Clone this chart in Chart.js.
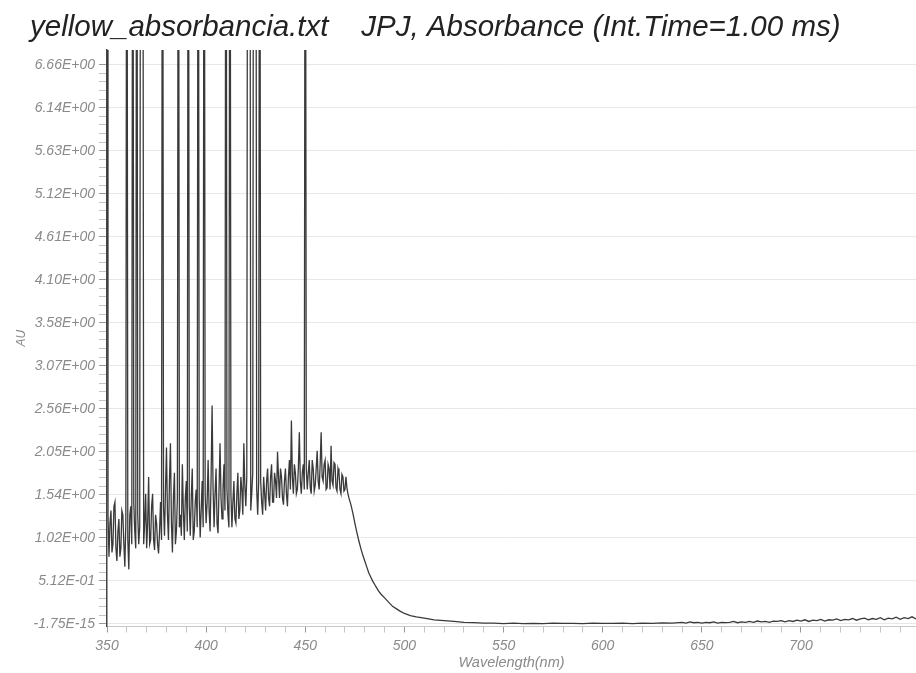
<!DOCTYPE html>
<html>
<head>
<meta charset="utf-8">
<script src="https://cdn.jsdelivr.net/npm/chart.js@4/dist/chart.umd.min.js"></script>
<style>
  html, body { margin: 0; padding: 0; background: #fff; }
  canvas { display: block; }
</style>
</head>
<body>
<canvas id="canvas-spectrum" width="916" height="673"></canvas>
<script>
// absorbance spectrum (12 = off-scale / saturated reading)
const uvNm = [
  349, 349.5, 350, 350.5, 351, 351.5, 352, 352.5, 353, 353.5,
  354, 354.5, 355, 355.5, 356, 356.5, 357, 357.5, 358, 358.5,
  359, 359.5, 360, 360.5, 361, 361.5, 362, 362.5, 363, 363.5,
  364, 364.5, 365, 365.5, 366, 366.5, 367, 367.5, 368, 368.5,
  369, 369.5, 370, 370.5, 371, 371.5, 372, 372.5, 373, 373.5,
  374, 374.5, 375, 375.5, 376, 376.5, 377, 377.5, 378, 378.5,
  379, 379.5, 380, 380.5, 381, 381.5, 382, 382.5, 383, 383.5,
  384, 384.5, 385, 385.5, 386, 386.5, 387, 387.5, 388, 388.5,
  389, 389.5, 390, 390.5, 391, 391.5, 392, 392.5, 393, 393.5,
  394, 394.5, 395, 395.5, 396, 396.5, 397, 397.5, 398, 398.5,
  399, 399.5, 400, 400.5, 401, 401.5, 402, 402.5, 403, 403.5,
  404, 404.5, 405, 405.5, 406, 406.5, 407, 407.5, 408, 408.5,
  409, 409.5, 410, 410.5, 411, 411.5, 412, 412.5, 413, 413.5,
  414, 414.5, 415, 415.5, 416, 416.5, 417, 417.5, 418, 418.5,
  419, 419.5, 420, 420.5, 421, 421.5, 422, 422.5, 423, 423.5,
  424, 424.5, 425, 425.5, 426, 426.5, 427, 427.5, 428, 428.5,
  429, 429.5, 430, 430.5, 431, 431.5, 432, 432.5, 433, 433.5,
  434, 434.5, 435, 435.5, 436, 436.5, 437, 437.5, 438, 438.5,
  439, 439.5, 440, 440.5, 441, 441.5, 442, 442.5, 443, 443.5,
  444, 444.5, 445, 445.5, 446, 446.5, 447, 447.5, 448, 448.5,
  449, 449.5, 450, 450.5, 451, 451.5, 452, 452.5, 453, 453.5,
  454, 454.5, 455, 455.5, 456, 456.5, 457, 457.5, 458, 458.5,
  459, 459.5, 460, 460.5, 461, 461.5, 462, 462.5, 463, 463.5,
  464, 464.5, 465, 465.5, 466, 466.5, 467, 467.5, 468, 468.5,
  469, 469.5, 470, 470.5, 471, 471.5, 472
];
const uvAbs = [
  1.10, 0.85, 12, 1.30, 0.80, 1.20, 1.35, 0.85, 0.95, 1.40,
  1.45, 0.90, 0.75, 1.10, 1.25, 0.80, 0.90, 1.35, 1.30, 0.95,
  0.68, 1.20, 12, 1.00, 0.65, 1.30, 1.40, 0.95, 12, 1.45,
  1.10, 0.90, 12, 1.30, 0.95, 1.15, 12, 12, 12, 0.95,
  1.20, 1.55, 0.90, 1.20, 1.75, 0.95, 1.00, 1.40, 1.55, 1.00,
  0.88, 1.30, 1.20, 0.95, 0.84, 1.10, 1.45, 1.00, 12, 1.40,
  1.05, 1.60, 2.10, 1.30, 1.00, 1.70, 2.15, 1.20, 0.85, 1.50,
  1.80, 0.95, 1.10, 1.50, 12, 1.15, 1.30, 1.05, 1.90, 1.35,
  1.00, 1.50, 1.70, 1.10, 12, 1.40, 1.05, 1.50, 1.85, 1.00,
  1.10, 1.45, 1.60, 1.15, 12, 1.50, 1.03, 1.35, 1.70, 1.15,
  12, 1.55, 1.20, 1.45, 1.95, 1.35, 1.10, 1.75, 2.60, 1.60,
  1.15, 1.55, 1.85, 1.20, 1.08, 1.60, 2.15, 1.50, 1.25, 1.60,
  1.90, 1.35, 12, 1.60, 1.30, 1.15, 12, 1.55, 1.15, 1.45,
  1.70, 1.25, 1.20, 1.55, 1.80, 1.25, 1.35, 1.75, 1.60, 1.30,
  2.15, 1.65, 1.40, 1.75, 12, 12, 12, 1.35, 1.55, 1.80,
  12, 12, 12, 1.60, 1.30, 1.70, 12, 1.70, 1.45, 1.30,
  1.75, 1.55, 1.35, 1.70, 1.85, 1.50, 1.40, 1.75, 1.90, 1.45,
  1.45, 1.80, 1.70, 1.50, 2.05, 1.75, 1.50, 1.85, 1.75, 1.50,
  1.42, 1.70, 1.85, 1.55, 1.40, 1.75, 1.95, 1.60, 2.42, 1.75,
  1.55, 1.90, 1.80, 1.55, 1.60, 1.85, 2.28, 1.70, 1.55, 1.80,
  1.90, 1.60, 12, 1.85, 1.60, 1.80, 1.95, 1.62, 1.55, 1.95,
  1.85, 1.58, 1.65, 1.85, 2.06, 1.70, 1.60, 1.90, 2.28, 1.75,
  1.70, 1.90, 1.95, 1.60, 1.62, 1.90, 1.85, 1.60, 2.12, 1.70,
  1.65, 1.92, 1.90, 1.62, 1.58, 1.85, 1.80, 1.60, 1.55, 1.78,
  1.75, 1.58, 1.60, 1.75, 1.62, 1.55, 1.50
];
const edgeNm = [473, 474, 475, 476, 477, 478, 479, 480, 481, 482, 483, 484, 485, 486, 487, 488,
  490, 492, 494, 496, 498, 500, 503, 506, 510, 515, 520, 525, 530, 535, 540];
const edgeAbs = [1.42, 1.32, 1.20, 1.09, 0.99, 0.90, 0.82, 0.75, 0.68, 0.61, 0.56, 0.51, 0.47, 0.43, 0.39, 0.36,
  0.31, 0.26, 0.21, 0.18, 0.15, 0.125, 0.10, 0.085, 0.07, 0.05, 0.04, 0.03, 0.02, 0.015, 0.01];
const tailNm = [545, 550, 555, 560, 565, 570, 575, 580, 585, 590, 595, 600, 605, 610, 615, 620, 625, 630, 635,
  640, 642, 644, 646, 648, 650, 652, 654, 656, 658, 660, 662, 664, 666, 668, 670, 672, 674, 676, 678,
  680, 682, 684, 686, 688, 690, 692, 694, 696, 698, 700, 702, 704, 706, 708, 710, 712, 714, 716, 718,
  720, 722, 724, 726, 728, 730, 732, 734, 736, 738, 740, 742, 744, 746, 748, 750, 752, 754, 756, 758];
const tailAbs = [0.010, 0.005, 0.010, 0.005, 0.008, 0.004, 0.010, 0.006, 0.008, 0.005, 0.010, 0.006, 0.008, 0.010, 0.005, 0.010, 0.008, 0.012, 0.010,
  0.020, 0.010, 0.025, 0.015, 0.020, 0.010, 0.020, 0.015, 0.025, 0.010, 0.020, 0.015, 0.020, 0.030, 0.015, 0.025, 0.020, 0.030, 0.020, 0.035,
  0.025, 0.030, 0.020, 0.035, 0.030, 0.040, 0.025, 0.040, 0.030, 0.045, 0.035, 0.050, 0.030, 0.045, 0.040, 0.055, 0.035, 0.050, 0.045, 0.060,
  0.040, 0.055, 0.050, 0.065, 0.045, 0.060, 0.070, 0.050, 0.065, 0.055, 0.075, 0.050, 0.070, 0.060, 0.080, 0.055, 0.075, 0.065, 0.085, 0.060];

const yTickValues = [0, 0.512, 1.024, 1.536, 2.048, 2.56, 3.072, 3.584, 4.096, 4.608, 5.12, 5.632, 6.144, 6.656];
const yTickLabels = ['-1.75E-15', '5.12E-01', '1.02E+00', '1.54E+00', '2.05E+00', '2.56E+00', '3.07E+00',
  '3.58E+00', '4.10E+00', '4.61E+00', '5.12E+00', '5.63E+00', '6.14E+00', '6.66E+00'];
const xTickValues = [350, 400, 450, 500, 550, 600, 650, 700];
const xTickLabels = ['350', '400', '450', '500', '550', '600', '650', '700'];

const titleText = 'yellow_absorbancia.txt    JPJ, Absorbance (Int.Time=1.00 ms)';

const allNm = uvNm.concat(edgeNm, tailNm);
const allAbs = uvAbs.concat(edgeAbs, tailAbs);
const points = allNm.map((nm, i) => ({ x: nm, y: allAbs[i] }));

Chart.defaults.font.family = "'Liberation Sans', Arial, sans-serif";

// majors from the arrays, 4 unlabeled minors in between
function yTicks(scale) {
  const t = [];
  const step = (yTickValues[1] - yTickValues[0]) / 5;
  yTickValues.forEach((v, i) => {
    t.push({ value: v, name: yTickLabels[i] });
    if (i < yTickValues.length - 1) {
      for (let k = 1; k < 5; k++) t.push({ value: v + k * step, name: '', minor: true });
    }
  });
  scale.ticks = t;
}
function xTicks(scale) {
  const t = [];
  for (let v = 350; v <= 750; v += 10) {
    const i = xTickValues.indexOf(v);
    t.push({ value: v, name: i >= 0 ? xTickLabels[i] : '', minor: i < 0 });
  }
  scale.ticks = t;
}

const canvas = document.getElementById('canvas-spectrum');
var ctx = canvas.getContext('2d');
new Chart(ctx, {
  type: 'line',
  data: {
    datasets: [{
      data: points,
      borderColor: '#3a3a3a',
      borderWidth: 1.3,
      pointRadius: 0,
      tension: 0,
      fill: false
    }]
  },
  options: {
    responsive: false,
    animation: false,
    layout: { padding: { left: 30, right: 0, top: 0, bottom: 0 } },
    plugins: {
      legend: { display: false },
      tooltip: { enabled: false },
      title: {
        display: true,
        text: titleText,
        align: 'start',
        color: '#222',
        font: { size: 29.5, style: 'italic', weight: 'normal' },
        padding: { top: 10.2, bottom: 4.4 }
      }
    },
    scales: {
      x: {
        type: 'linear',
        min: 350,
        max: 758,
        afterBuildTicks: xTicks,
        afterFit: s => { s.height = 46.5; },
        border: { color: '#c8c8c8' },
        grid: {
          drawOnChartArea: false,
          tickLength: 6,
          tickColor: c => (c.tick && c.tick.minor) ? '#c4c4c4' : '#999'
        },
        ticks: {
          autoSkip: false,
          maxRotation: 0,
          padding: 5,
          color: '#8a8a8a',
          font: { size: 14, style: 'italic' },
          callback: (v, i, t) => t[i].name
        },
        title: {
          display: true,
          text: 'Wavelength(nm)',
          color: '#8a8a8a',
          font: { size: 14.5, style: 'italic' },
          padding: { top: 0, bottom: 1 }
        }
      },
      y: {
        min: -0.03,
        max: 6.83,
        afterBuildTicks: yTicks,
        afterFit: s => { s.width = 77; },
        border: { color: '#444', width: 1.5 },
        grid: {
          color: c => (c.tick && c.tick.minor) ? 'rgba(0,0,0,0)' : '#e8e8e8',
          tickLength: 8,
          tickColor: c => (c.tick && c.tick.minor) ? '#c4c4c4' : '#999'
        },
        ticks: {
          autoSkip: false,
          padding: 4,
          color: '#8a8a8a',
          font: { size: 14, style: 'italic' },
          callback: (v, i, t) => t[i].name
        },
        title: {
          display: true,
          text: 'AU',
          color: '#8a8a8a',
          font: { size: 12, style: 'italic' },
          padding: { top: -15.2 }
        }
      }
    }
  }
});
</script>
</body>
</html>
